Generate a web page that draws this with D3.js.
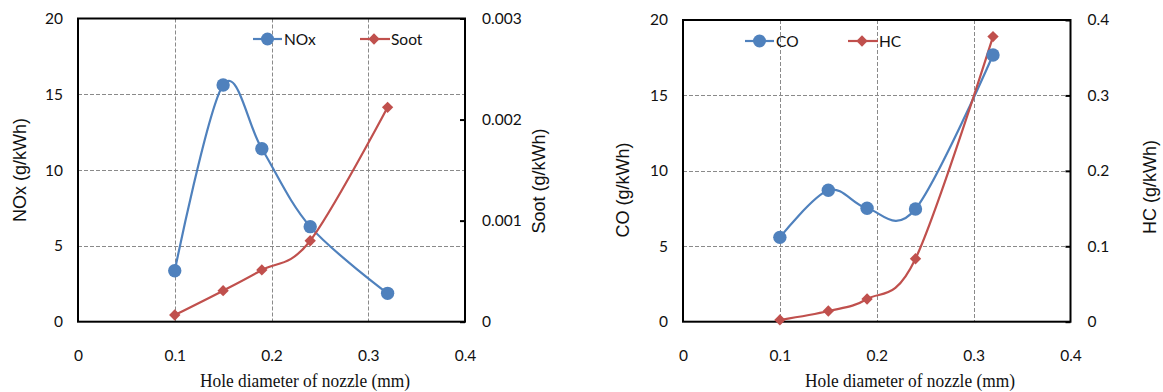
<!DOCTYPE html>
<html>
<head>
<meta charset="utf-8">
<script src="https://cdn.jsdelivr.net/npm/d3@7"></script>
<style>
  html, body { margin: 0; padding: 0; background: #fff; }
  svg { display: block; }
</style>
</head>
<body>
<svg id="chart" width="1163" height="392"></svg>
<script>
// ---------- DATA ----------
const holeDiameter = [0.1, 0.15, 0.19, 0.24, 0.32];
const noxValues  = [3.36, 15.61, 11.41, 6.27, 1.87];
const sootValues = [0.000066, 0.000307, 0.000512, 0.000801, 0.002121];
const coValues   = [5.59, 8.71, 7.52, 7.47, 17.68];
const hcValues   = [0.0023, 0.0142, 0.0301, 0.0835, 0.378];

const xTicks = [0, 0.1, 0.2, 0.3, 0.4];
const leftYTicks = [0, 5, 10, 15, 20];
const sootTicks = [0, 0.001, 0.002, 0.003];
const hcTicks = [0, 0.1, 0.2, 0.3, 0.4];

const xTitle = "Hole diameter of nozzle (mm)";

// ---------- STYLE ----------
const BLUE = "#4F81BD";
const RED = "#C0504D";
const TICK_FONT = "Lato, 'Open Sans', sans-serif";
const TITLE_FONT = "'Liberation Sans', Arial, sans-serif";
const SERIF_FONT = "'Liberation Serif', 'Times New Roman', serif";

const svg = d3.select("#chart");

function drawChart(cfg) {
  const g = svg.append("g");
  const x = d3.scaleLinear().domain([0, 0.4]).range([cfg.left, cfg.right]);
  const yL = d3.scaleLinear().domain([0, 20]).range([cfg.bottom, cfg.top]);
  const yR = d3.scaleLinear().domain(cfg.rDomain).range([cfg.bottom, cfg.top]);

  // grid lines
  const grid = g.append("g").attr("stroke", "#8a8a8a").attr("stroke-width", 1)
    .attr("stroke-dasharray", "4,2").attr("fill", "none");
  xTicks.filter(t => t > 0 && t < 0.4).forEach(t => {
    grid.append("line").attr("x1", Math.round(x(t)) + 0.5).attr("x2", Math.round(x(t)) + 0.5)
      .attr("y1", cfg.top).attr("y2", cfg.bottom);
  });
  leftYTicks.filter(t => t > 0 && t < 20).forEach(t => {
    grid.append("line").attr("y1", Math.round(yL(t)) + 0.5).attr("y2", Math.round(yL(t)) + 0.5)
      .attr("x1", cfg.left).attr("x2", cfg.right);
  });

  // axes
  const xAxis = g.append("g").attr("transform", `translate(0,${cfg.bottom})`)
    .call(d3.axisBottom(x).tickValues(xTicks).tickSize(0).tickPadding(28)
      .tickFormat(d => d === 0 ? "0" : d3.format(".1f")(d)));
  const yAxisL = g.append("g").attr("transform", `translate(${cfg.left},0)`)
    .call(d3.axisLeft(yL).tickValues(leftYTicks).tickSize(0).tickPadding(15).tickFormat(d3.format("d")));
  const yAxisR = g.append("g").attr("transform", `translate(${cfg.right},0)`)
    .call(d3.axisRight(yR).tickValues(cfg.rTicks).tickSize(-5).tickPadding(17).tickFormat(cfg.rFormat));
  [xAxis, yAxisL, yAxisR].forEach(a => {
    a.select(".domain").remove();
    a.selectAll("text").attr("font-family", TICK_FONT).attr("font-size", "15.5px").attr("fill", "#111");
    a.selectAll("line").attr("stroke", "#000").attr("stroke-width", 2);
  });

  // frame
  g.append("rect").attr("x", cfg.left).attr("y", cfg.top)
    .attr("width", cfg.right - cfg.left).attr("height", cfg.bottom - cfg.top)
    .attr("fill", "none").attr("stroke", "#000").attr("stroke-width", 2);

  // series
  const curve = d3.curveCardinal.tension(0);
  const lineL = d3.line().x((d, i) => x(holeDiameter[i])).y(d => yL(d)).curve(curve);
  const lineR = d3.line().x((d, i) => x(holeDiameter[i])).y(d => yR(d)).curve(curve);

  g.append("path").datum(cfg.leftVals).attr("d", lineL)
    .attr("fill", "none").attr("stroke", BLUE).attr("stroke-width", 2.2);
  g.append("path").datum(cfg.rightVals).attr("d", lineR)
    .attr("fill", "none").attr("stroke", RED).attr("stroke-width", 2.2);

  const diamond = d3.symbol().type(d3.symbolSquare).size(64);
  g.selectAll(".rmark").data(cfg.rightVals).enter().append("path")
    .attr("transform", (d, i) => `translate(${x(holeDiameter[i])},${yR(d)}) rotate(45)`)
    .attr("d", diamond).attr("fill", RED);
  g.selectAll(".lmark").data(cfg.leftVals).enter().append("circle")
    .attr("cx", (d, i) => x(holeDiameter[i])).attr("cy", d => yL(d))
    .attr("r", 6.7).attr("fill", BLUE);

  // legend
  const L = cfg.legend;
  const lg = g.append("g");
  lg.append("line").attr("x1", L.x1).attr("x2", L.x1 + 29).attr("y1", L.y).attr("y2", L.y)
    .attr("stroke", BLUE).attr("stroke-width", 2.2);
  lg.append("circle").attr("cx", L.x1 + 14.5).attr("cy", L.y).attr("r", 6.5).attr("fill", BLUE);
  lg.append("text").attr("x", L.x1 + 31).attr("y", L.y).attr("dy", "0.36em")
    .attr("font-family", TICK_FONT).attr("font-size", "15.5px").attr("fill", "#111").text(cfg.leftName);
  lg.append("line").attr("x1", L.x2).attr("x2", L.x2 + 30).attr("y1", L.y).attr("y2", L.y)
    .attr("stroke", RED).attr("stroke-width", 2.2);
  lg.append("path").attr("transform", `translate(${L.x2 + 14},${L.y}) rotate(45)`).attr("d", diamond).attr("fill", RED);
  lg.append("text").attr("x", L.x2 + 31).attr("y", L.y).attr("dy", "0.36em")
    .attr("font-family", TICK_FONT).attr("font-size", "15.5px").attr("fill", "#111").text(cfg.rightName);

  // axis titles
  g.append("text").attr("transform", `translate(${cfg.lTitleX},${cfg.lTitleY}) rotate(-90)`)
    .attr("text-anchor", "middle").attr("dy", "0.35em")
    .attr("font-family", TITLE_FONT).attr("font-size", "18px").attr("fill", "#111").text(cfg.lTitle);
  g.append("text").attr("transform", `translate(${cfg.rTitleX},${cfg.rTitleY}) rotate(-90)`)
    .attr("text-anchor", "middle").attr("dy", "0.35em")
    .attr("font-family", TITLE_FONT).attr("font-size", "18px").attr("fill", "#111").text(cfg.rTitle);
  g.append("text").attr("x", cfg.xTitleX).attr("y", 387)
    .attr("text-anchor", "middle")
    .attr("textLength", 210).attr("lengthAdjust", "spacingAndGlyphs")
    .attr("font-family", SERIF_FONT).attr("font-size", "19px").attr("fill", "#111").text(xTitle);
}

drawChart({
  left: 78, right: 465, top: 18.5, bottom: 321.7,
  rDomain: [0, 0.003], rTicks: sootTicks, rFormat: d => d === 0 ? "0" : d3.format(".3f")(d),
  leftVals: noxValues, rightVals: sootValues,
  leftName: "NOx", rightName: "Soot",
  legend: { x1: 253, x2: 360, y: 39 },
  lTitle: "NOx (g/kWh)", lTitleX: 20, lTitleY: 170,
  rTitle: "Soot (g/kWh)", rTitleX: 539, rTitleY: 181,
  xTitleX: 305
});

drawChart({
  left: 683, right: 1070.5, top: 20, bottom: 321.7,
  rDomain: [0, 0.4], rTicks: hcTicks, rFormat: d => d === 0 ? "0" : d3.format(".1f")(d),
  leftVals: coValues, rightVals: hcValues,
  leftName: "CO", rightName: "HC",
  legend: { x1: 745, x2: 848, y: 41 },
  lTitle: "CO (g/kWh)", lTitleX: 623, lTitleY: 190,
  rTitle: "HC (g/kWh)", rTitleX: 1150, rTitleY: 187,
  xTitleX: 910
});
</script>
</body>
</html>
